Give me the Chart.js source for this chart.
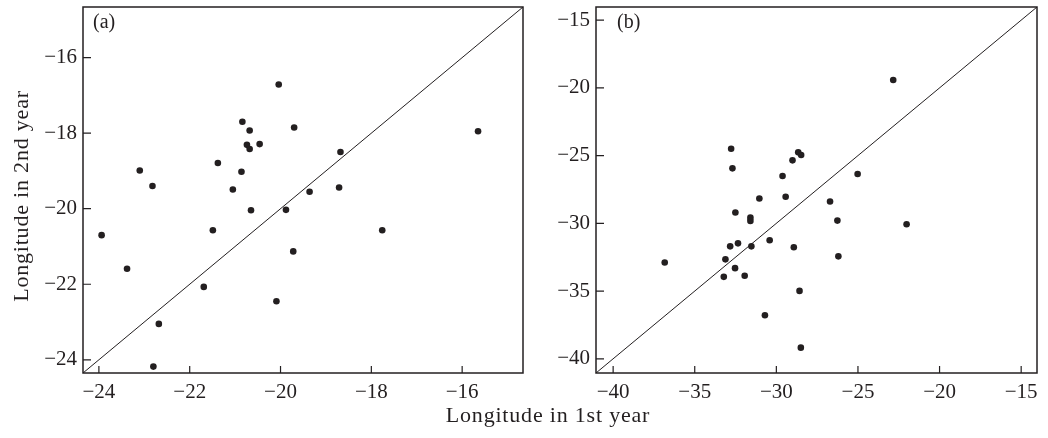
<!DOCTYPE html>
<html>
<head>
<meta charset="utf-8">
<script src="https://cdn.jsdelivr.net/npm/chart.js@4"></script>
<style>
  body { margin: 0; background: #fff; width: 1048px; height: 438px; position: relative; overflow: hidden; }
  canvas { position: absolute; top: 0; }
  #chartA { left: 0; }
  #chartB { left: 530px; }
  .titre { position: absolute; text-align: center; white-space: nowrap; line-height: 24px;
           font: 22px "Liberation Serif", serif; letter-spacing: 0.8px; color: #231f20; }
  #xtitle { top: 402px; left: 0; width: 1096px; }
  #ytitle { top: 183px; left: -179px; width: 400px; transform: rotate(-90deg); }
</style>
</head>
<body>
<canvas id="chartA" width="530" height="438"></canvas>
<canvas id="chartB" width="518" height="438"></canvas>
<div id="xtitle" class="titre">Longitude in 1st year</div>
<div id="ytitle" class="titre">Longitude in 2nd year</div>
<script>
// Données (a)
const firstYearA = [-23.94, -23.38, -23.10, -22.82, -22.80, -22.68, -21.69, -21.49, -21.38, -21.05,
                    -20.86, -20.84, -20.68, -20.74, -20.68, -20.46, -20.65, -20.04, -20.09, -19.88,
                    -19.72, -19.70, -19.36, -18.68, -18.71, -17.76, -15.65];
const secondYearA = [-20.70, -21.59, -18.99, -19.40, -24.18, -23.05, -22.07, -20.57, -18.79, -19.49,
                     -19.02, -17.70, -17.93, -18.31, -18.42, -18.29, -20.04, -16.71, -22.45, -20.03,
                     -21.13, -17.85, -19.55, -18.50, -19.44, -20.57, -17.95];
const ticksA = [-24, -22, -20, -18, -16];
const rangeA = [-24.35, -14.66];

// Données (b)
const firstYearB = [-36.84, -33.22, -33.12, -32.83, -32.77, -32.69, -32.53, -32.51, -32.35, -31.94,
                    -31.59, -31.59, -31.53, -31.04, -30.70, -30.41, -29.62, -29.43, -29.01, -28.93,
                    -28.66, -28.48, -28.58, -28.50, -26.71, -26.26, -26.20, -25.02, -22.84, -22.02];
const secondYearB = [-32.89, -33.95, -32.66, -31.70, -24.49, -25.94, -33.31, -29.20, -31.48, -33.87,
                     -29.58, -29.82, -31.70, -28.17, -36.79, -31.25, -26.51, -28.04, -25.35, -31.77,
                     -24.76, -24.96, -34.99, -39.18, -28.39, -29.80, -32.44, -26.36, -19.42, -30.07];
const ticksB = [-40, -35, -30, -25, -20, -15];
const rangeB = [-41.05, -14.03];

const ink = '#231f20';
const serif = { family: '"Liberation Serif", serif', size: 21 };
const fmt = v => (v < 0 ? '\u2212' + Math.abs(v) : String(v));

// Cadre, traits de graduation vers l'intérieur et lettre du panneau
const cadre = {
    id: 'cadre',
    afterDraw(chart, args, opts) {
        const { ctx, chartArea: a, scales: { x, y } } = chart;
        ctx.save();
        ctx.strokeStyle = ink;
        ctx.lineWidth = 1.5;
        ctx.strokeRect(a.left, a.top, a.right - a.left, a.bottom - a.top);
        ctx.lineWidth = 1.2;
        ctx.beginPath();
        x.ticks.forEach(t => {
            const px = x.getPixelForValue(t.value);
            ctx.moveTo(px, a.bottom);
            ctx.lineTo(px, a.bottom - 7);
        });
        y.ticks.forEach(t => {
            const py = y.getPixelForValue(t.value);
            ctx.moveTo(a.left, py);
            ctx.lineTo(a.left + 8, py);
        });
        ctx.stroke();
        ctx.font = '20px "Liberation Serif", serif';
        ctx.fillStyle = ink;
        ctx.textBaseline = 'top';
        ctx.fillText(opts.label, a.left + opts.dx, a.top + 6);
        ctx.restore();
    }
};

function makePanel(id, xs, ys, tickValues, range, label, dx, yWidth, padRight) {
    const [min, max] = range;
    const axis = (extra) => Object.assign({
        type: 'linear',
        min: min,
        max: max,
        afterBuildTicks: s => { s.ticks = tickValues.map(v => ({ value: v })); },
        grid: { display: false, drawTicks: false },
        border: { display: false }
    }, extra);

    return new Chart(document.getElementById(id), {
        data: {
            datasets: [
                {
                    type: 'scatter',
                    data: xs.map((v, i) => ({ x: v, y: ys[i] })),
                    backgroundColor: ink,
                    borderWidth: 0,
                    pointRadius: 3.3
                },
                {
                    // droite y = x
                    type: 'line',
                    data: [{ x: min, y: min }, { x: max, y: max }],
                    borderColor: ink,
                    borderWidth: 1,
                    pointRadius: 0,
                    fill: false
                }
            ]
        },
        options: {
            responsive: false,
            animation: false,
            events: [],
            layout: { padding: { left: 0, top: 7, right: padRight, bottom: 35 } },
            plugins: {
                legend: { display: false },
                tooltip: { enabled: false },
                cadre: { label: label, dx: dx }
            },
            scales: {
                x: axis({
                    ticks: { font: serif, color: ink, callback: fmt, autoSkip: false, maxRotation: 0, padding: 7 },
                    afterFit: s => { s.height = 30; s.paddingLeft = 0; s.paddingRight = 0; }
                }),
                y: axis({
                    ticks: { font: serif, color: ink, callback: fmt, autoSkip: false, padding: 6 },
                    afterFit: s => { s.width = yWidth; s.paddingTop = 0; s.paddingBottom = 0; }
                })
            }
        },
        plugins: [cadre]
    });
}

makePanel('chartA', firstYearA, secondYearA, ticksA, rangeA, '(a)', 10, 83, 7);
makePanel('chartB', firstYearB, secondYearB, ticksB, rangeB, '(b)', 21, 66, 11);
</script>
</body>
</html>
